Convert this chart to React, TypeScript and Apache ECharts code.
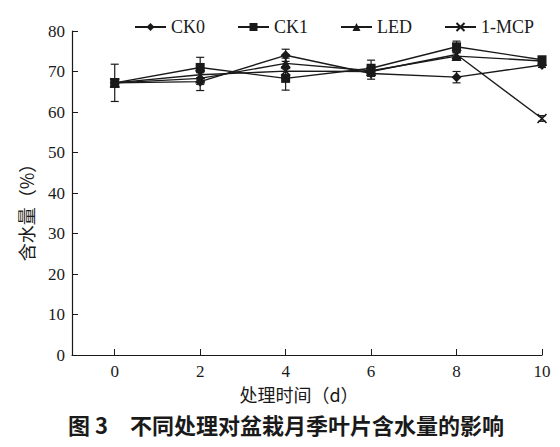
import React, { useEffect, useRef } from "react";
import * as echarts from "echarts";

const days = [0, 2, 4, 6, 8, 10];
const seriesNames = ["CK0", "CK1", "LED", "1-MCP"];
const ck0 = [67.2, 67.5, 74.0, 69.5, 68.6, 71.6];
const ck0Err = [1.0, 2.2, 1.5, 1.4, 1.4, 0.6];
const ck1 = [67.2, 71.0, 68.3, 70.8, 76.1, 72.9];
const ck1Err = [4.6, 2.5, 2.9, 2.0, 1.4, 0.6];
const led = [67.2, 68.3, 72.0, 70.2, 73.8, 72.6];
const ledErr = [1.0, 1.5, 1.3, 0.8, 0.8, 0.6];
const mcp = [67.2, 69.2, 70.1, 70.0, 74.2, 58.4];
const mcpErr = [1.0, 1.0, 1.0, 0.8, 0.8, 0.7];
const xTicks = [0, 2, 4, 6, 8, 10];

const INK = "#1a1a1a";
const SERIF = "'Liberation Serif', 'Times New Roman', serif";
const CJK = "'Noto Sans CJK SC', sans-serif";

export default function App() {
  const ref = useRef<HTMLDivElement>(null);
  useEffect(() => {
    if (!ref.current) return;
    const chart = echarts.init(ref.current, undefined, { renderer: "svg" });
    const allVals = [ck0, ck1, led, mcp];
    const allErr = [ck0Err, ck1Err, ledErr, mcpErr];
    const symbols = [
      "diamond",
      "rect",
      "triangle",
      "path://M0,0L10,10M10,0L0,10",
    ];
    const sizes = [10, 9, 10, 9];
    const lineSeries = seriesNames.map((name, i) => ({
      name,
      type: "line",
      data: days.map((d, j) => [d, allVals[i][j]]),
      symbol: symbols[i],
      symbolSize: sizes[i],
      showSymbol: true,
      lineStyle: { color: INK, width: 1.4 },
      itemStyle: {
        color: i === 3 ? "transparent" : INK,
        borderColor: INK,
        borderWidth: i === 3 ? 1.6 : 0,
      },
      z: 3,
    }));
    const errData: number[][] = [];
    allVals.forEach((vals, i) => {
      days.forEach((d, j) => {
        errData.push([d, vals[j] - allErr[i][j], vals[j] + allErr[i][j]]);
      });
    });
    const errSeries = {
      type: "custom",
      name: "err",
      data: errData,
      z: 2,
      renderItem: (params: any, api: any) => {
        const x = api.value(0);
        const lo = api.coord([x, api.value(1)]);
        const hi = api.coord([x, api.value(2)]);
        const w = 4;
        const style = { stroke: INK, lineWidth: 1.2 };
        return {
          type: "group",
          children: [
            { type: "line", shape: { x1: lo[0], y1: lo[1], x2: hi[0], y2: hi[1] }, style },
            { type: "line", shape: { x1: lo[0] - w, y1: lo[1], x2: lo[0] + w, y2: lo[1] }, style },
            { type: "line", shape: { x1: hi[0] - w, y1: hi[1], x2: hi[0] + w, y2: hi[1] }, style },
          ],
        };
      },
    };
    chart.setOption({
      animation: false,
      backgroundColor: "#ffffff",
      legend: {
        data: seriesNames,
        left: 129,
        top: 13,
        itemWidth: 31,
        itemHeight: 10,
        itemGap: 32,
        textStyle: { fontFamily: SERIF, fontSize: 18, color: INK },
      },
      grid: { left: 72, right: 18, top: 31, bottom: 92, containLabel: false },
      xAxis: {
        type: "value",
        min: -1,
        max: 10,
        axisLine: { onZero: false, lineStyle: { color: INK, width: 1.2 } },
        axisTick: {
          inside: true,
          length: 6,
          customValues: xTicks,
          lineStyle: { color: INK },
        },
        axisLabel: {
          customValues: xTicks,
          margin: 8,
          fontFamily: SERIF,
          fontSize: 17,
          color: INK,
        },
        splitLine: { show: false },
      },
      yAxis: {
        type: "value",
        min: 0,
        max: 80,
        interval: 10,
        axisLine: { show: true, onZero: false, lineStyle: { color: INK, width: 1.2 } },
        axisTick: { show: true, inside: true, length: 6, lineStyle: { color: INK } },
        axisLabel: { margin: 7, fontFamily: SERIF, fontSize: 17, color: INK },
        splitLine: { show: false },
      },
      graphic: [
        {
          type: "text",
          x: 26,
          y: 208,
          rotation: Math.PI / 2,
          style: {
            text: "含水量（%）",
            font: `18px ${CJK}`,
            fill: INK,
            align: "center",
            verticalAlign: "middle",
          },
        },
        {
          type: "text",
          x: 299,
          y: 394,
          style: {
            text: "处理时间（d）",
            font: `18px ${CJK}`,
            fill: INK,
            align: "center",
            verticalAlign: "middle",
          },
        },
        {
          type: "text",
          x: 286,
          y: 424,
          style: {
            text: "图 3　不同处理对盆栽月季叶片含水量的影响",
            font: `bold 22px ${CJK}`,
            fill: INK,
            align: "center",
            verticalAlign: "middle",
          },
        },
      ],
      series: [errSeries, ...lineSeries],
    });
    return () => chart.dispose();
  }, []);
  return (
    <div
      ref={ref}
      style={{ position: "fixed", left: 0, top: 0, width: 560, height: 447, background: "#fff" }}
    />
  );
}
